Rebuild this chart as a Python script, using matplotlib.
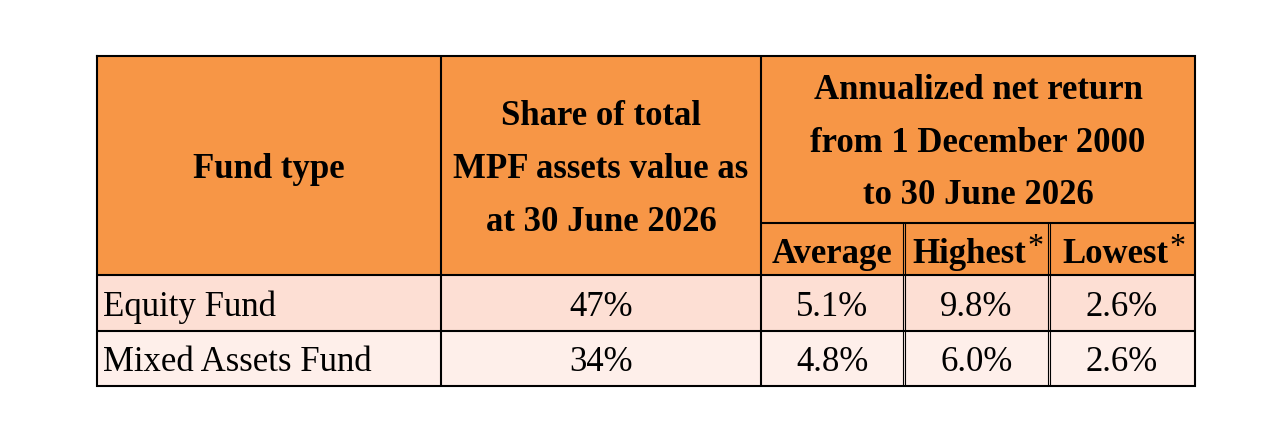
import matplotlib.pyplot as plt
from matplotlib.patches import Rectangle

plt.rcParams['font.family'] = ['Liberation Serif', 'DejaVu Serif']

# table data
fund_types = ['Equity Fund', 'Mixed Assets Fund']
asset_share = [47, 34]
avg_return = [5.1, 4.8]
highest_return = [9.8, 6.0]
lowest_return = [2.6, 2.6]

header_share = ['Share of total', 'MPF assets value as', 'at 30 June 2026']
header_return = ['Annualized net return', 'from 1 December 2000', 'to 30 June 2026']
sub_headers = ['Average', 'Highest', 'Lowest']
sub_marks = ['', '*', '*']

# layout in pixel units
col_edges = [97, 441, 761, 904, 1049, 1195]
row_edges = [56, 223, 275, 331, 386]

head_color = '#F79646'
row_colors = ['#FDDFD4', '#FEEFEA']
fs = 25

fig = plt.figure(figsize=(12.64, 4.33), dpi=100)
ax = fig.add_axes([0, 0, 1, 1])
ax.set_xlim(0, 1264)
ax.set_ylim(433, 0)
ax.axis('off')

left, right = col_edges[0], col_edges[-1]
top, bottom = row_edges[0], row_edges[-1]

# fills
ax.add_patch(Rectangle((left, top), right - left, row_edges[2] - top,
                       facecolor=head_color, edgecolor='none'))
for i, c in enumerate(row_colors):
    ax.add_patch(Rectangle((left, row_edges[2 + i]), right - left,
                           row_edges[3 + i] - row_edges[2 + i],
                           facecolor=c, edgecolor='none'))

lw = 1.5
# outer border and main lines
ax.plot([left, right, right, left, left], [top, top, bottom, bottom, top],
        color='black', lw=lw, solid_joinstyle='miter')
for y in row_edges[2:4]:
    ax.hlines(y, left, right, color='black', lw=lw)
ax.hlines(row_edges[1], col_edges[2], right, color='black', lw=lw)
for x in col_edges[1:3]:
    ax.vlines(x, top, bottom, color='black', lw=lw)
# double lines between return sub-columns
for x in col_edges[3:5]:
    ax.vlines(x - 1.3, row_edges[1], bottom, color='black', lw=0.8)
    ax.vlines(x + 1.3, row_edges[1], bottom, color='black', lw=0.8)

# header text (baselines)
ax.text((col_edges[0] + col_edges[1]) / 2, 178, 'Fund type', ha='center',
        va='baseline', fontsize=fs, fontweight='bold')
for k, line in enumerate(header_share):
    ax.text((col_edges[1] + col_edges[2]) / 2, 125 + 53 * k, line,
            ha='center', va='baseline', fontsize=fs, fontweight='bold')
for k, line in enumerate(header_return):
    ax.text((col_edges[2] + col_edges[5]) / 2, 99 + 52.5 * k, line,
            ha='center', va='baseline', fontsize=fs, fontweight='bold')
for j, s in enumerate(sub_headers):
    cx = (col_edges[2 + j] + col_edges[3 + j]) / 2
    if sub_marks[j]:
        cx -= 7
    t = ax.text(cx, 263, s, ha='center', va='baseline', fontsize=fs,
                fontweight='bold')
    if sub_marks[j]:
        # superscript mark just right of the word
        ax.annotate(sub_marks[j], xy=(1.0, 255), xycoords=(t, 'data'),
                    xytext=(1, 0), textcoords='offset points',
                    ha='left', va='baseline', fontsize=23)

# body rows
for i in range(len(fund_types)):
    yb = (row_edges[2 + i] + row_edges[3 + i]) / 2 + 12.5
    vals = [f'{asset_share[i]}%', f'{avg_return[i]:.1f}%',
            f'{highest_return[i]:.1f}%', f'{lowest_return[i]:.1f}%']
    ax.text(col_edges[0] + 6, yb, fund_types[i], ha='left', va='baseline',
            fontsize=fs)
    for j, v in enumerate(vals):
        ax.text((col_edges[1 + j] + col_edges[2 + j]) / 2, yb, v,
                ha='center', va='baseline', fontsize=fs)

fig.savefig('out.png', dpi=100, facecolor='white')
